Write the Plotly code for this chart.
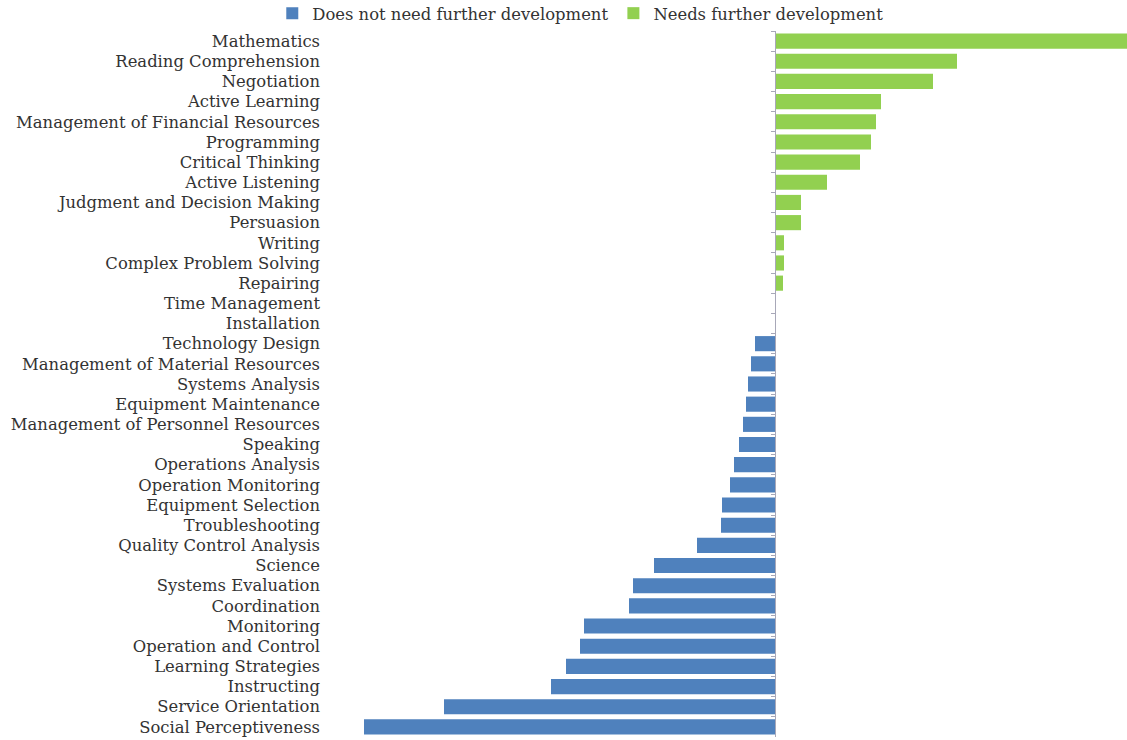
import plotly.graph_objects as go

categories = [
    "Mathematics", "Reading Comprehension", "Negotiation", "Active Learning",
    "Management of Financial Resources", "Programming", "Critical Thinking",
    "Active Listening", "Judgment and Decision Making", "Persuasion", "Writing",
    "Complex Problem Solving", "Repairing", "Time Management", "Installation",
    "Technology Design", "Management of Material Resources", "Systems Analysis",
    "Equipment Maintenance", "Management of Personnel Resources", "Speaking",
    "Operations Analysis", "Operation Monitoring", "Equipment Selection",
    "Troubleshooting", "Quality Control Analysis", "Science", "Systems Evaluation",
    "Coordination", "Monitoring", "Operation and Control", "Learning Strategies",
    "Instructing", "Service Orientation", "Social Perceptiveness",
]

needs_dev = [352, 182, 158, 106, 101, 96, 85, 52, 26, 26, 9, 9, 8, 0, 0,
             None, None, None, None, None, None, None, None, None, None,
             None, None, None, None, None, None, None, None, None, None]

no_dev = [None] * 15 + [-20, -24, -27, -29, -32, -36, -41, -45, -53, -54,
                        -78, -121, -142, -146, -191, -195, -209, -224, -331, -411]

FONT = "DejaVu Serif"
TXT = "#333333"
FS = 16.4

fig = go.Figure()
fig.add_trace(go.Bar(
    y=categories, x=no_dev, orientation="h", name="Does not need further development",
    marker=dict(color="#4F81BD", line=dict(width=0)), yaxis="y2",
))
fig.add_trace(go.Bar(
    y=categories, x=needs_dev, orientation="h", name="Needs further development",
    marker=dict(color="#92D050", line=dict(width=0)), yaxis="y",
))

L = 323
fig.update_layout(
    width=1127, height=740,
    margin=dict(l=L, r=0, t=31, b=3, autoexpand=False),
    paper_bgcolor="white", plot_bgcolor="white",
    barmode="overlay", bargap=0.25,
    font=dict(family=FONT, size=FS, color=TXT),
    showlegend=True,
    legend=dict(orientation="h", x=0.32, xanchor="center", y=1.0, yanchor="bottom",
                font=dict(family=FONT, size=FS, color=TXT), traceorder="normal",
                itemwidth=30, bgcolor="rgba(0,0,0,0)"),
    xaxis=dict(range=[-(775 - L), 352], showticklabels=False, showgrid=False,
               zeroline=False, showline=False, ticks=""),
    yaxis=dict(type="category", autorange="reversed", showgrid=False, showline=False,
               ticks="", tickfont=dict(family=FONT, size=FS, color=TXT),
               ticklabelstandoff=2),
    yaxis2=dict(type="category", overlaying="y", matches="y", anchor="free",
                position=(775 - L) / (1127 - L), showgrid=False, showline=True,
                linecolor="#a8a8b8", linewidth=1, ticks="outside", tickson="boundaries",
                ticklen=4, tickcolor="#a8a8b8", showticklabels=False, side="left"),
)

fig.write_html("out.html", config={"displayModeBar": False},
               post_script="document.body.style.margin='0';")
